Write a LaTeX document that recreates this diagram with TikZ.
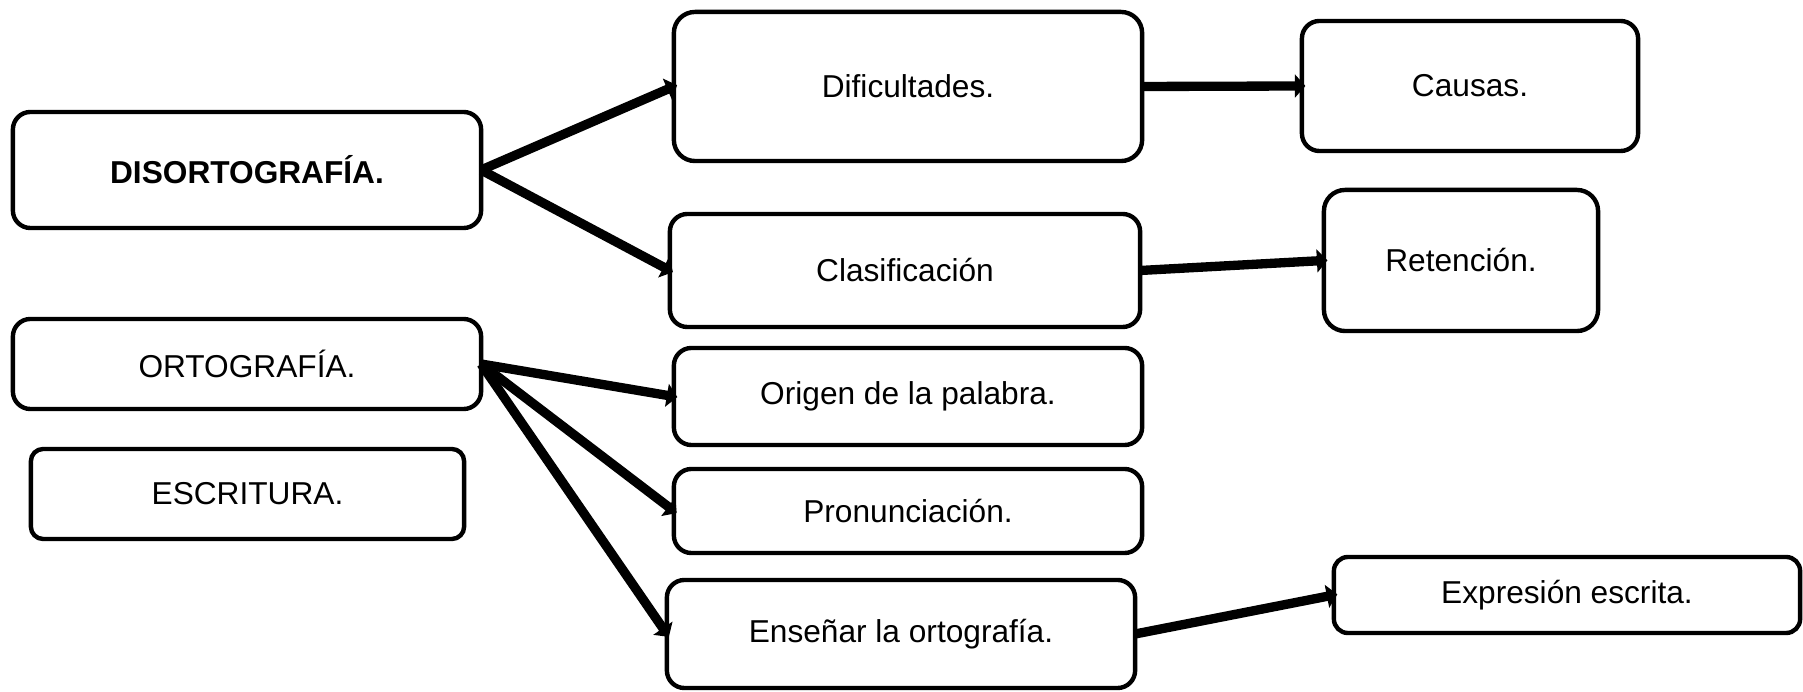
\documentclass[tikz,border=0pt]{standalone}
\usepackage{fontspec}
\setmainfont{Liberation Sans}
\usetikzlibrary{arrows.meta}
\tikzset{
  box/.style={draw=black, line width=1.25pt, rounded corners=5pt, inner sep=0pt, outer sep=0pt,
    font=\fontsize{9pt}{11pt}\selectfont, align=center},
  conn/.style={line width=2.65pt, -{Triangle[length=3pt,width=6.5pt]}, shorten >=-1pt}
}
\begin{document}
\begin{tikzpicture}[x=0.01cm,y=-0.01cm]
\useasboundingbox (0,0) rectangle (1803,692);
% left column
\node[box, minimum width=4.68cm, minimum height=1.16cm, font=\fontsize{9pt}{11pt}\selectfont\bfseries] (disort) at (247,170) {DISORTOGRAFÍA.};
\node[box, minimum width=4.68cm, minimum height=0.90cm] (orto) at (247,364) {ORTOGRAFÍA.};
\node[box, minimum width=4.33cm, minimum height=0.90cm, rounded corners=3.5pt] (escr) at (247.5,494) {ESCRITURA.};
% middle column
\node[box, minimum width=4.68cm, minimum height=1.49cm, rounded corners=6pt] (dif) at (908,86.5) {Dificultades.};
\node[box, minimum width=4.70cm, minimum height=1.13cm] (clas) at (905,270.5) {Clasificación};
\node[box, minimum width=4.68cm, minimum height=0.97cm] (orig) at (908,396.5) {Origen de la palabra.};
\node[box, minimum width=4.68cm, minimum height=0.84cm] (pron) at (908,511) {Pronunciación.};
\node[box, minimum width=4.68cm, minimum height=1.08cm] (ens) at (901,634) {Enseñar la ortografía.};
% right column
\node[box, minimum width=3.36cm, minimum height=1.30cm] (caus) at (1470,86) {Causas.};
\node[box, minimum width=2.74cm, minimum height=1.41cm, rounded corners=6pt] (ret) at (1461,260.5) {Retención.};
\node[box, minimum width=4.66cm, minimum height=0.76cm, rounded corners=4pt] (expr) at (1567,595) {Expresión escrita.};
% connectors
\draw[conn] (disort.east) -- (dif.west);
\draw[conn] (disort.east) -- (clas.west);
\draw[conn] (dif.east) -- (caus.west);
\draw[conn] (clas.east) -- (ret.west);
\draw[conn] (orto.east) -- (orig.west);
\draw[conn] (orto.east) -- (pron.west);
\draw[conn] (orto.east) -- (ens.west);
\draw[conn] (ens.east) -- (expr.west);
\end{tikzpicture}
\end{document}
